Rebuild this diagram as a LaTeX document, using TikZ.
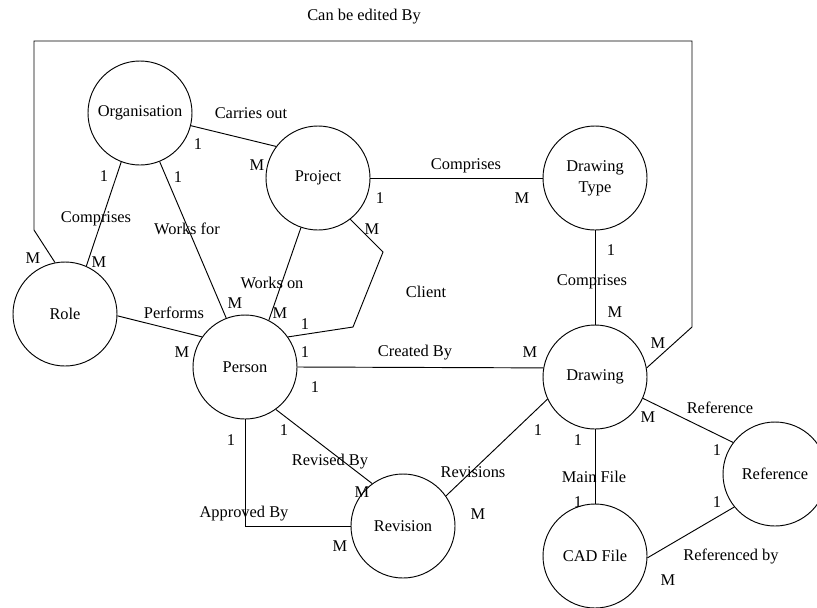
\documentclass[tikz,border=0pt]{standalone}
\usepackage{fontspec}
\setmainfont{Liberation Serif}

\begin{document}
\begin{tikzpicture}[
      x=0.03cm, y=-0.03cm,
      every node/.style={font=\fontsize{14}{18}\selectfont},
      entity/.style={draw,circle,minimum size=3.12cm,inner sep=0pt,align=center,line width=0.8pt},
      card/.style={inner sep=1pt},
      rel/.style={inner sep=1pt},
      link/.style={line width=0.8pt}
  ]
    \clip (0,0) rectangle (817,607);

    \node[entity] (org)       at (140,113) {Organisation};
    \node[entity] (proj)      at (318,178) {Project};
    \node[entity] (dtype)     at (595,178) {Drawing\\Type};
    \node[entity] (role)      at (65,314)  {Role};
    \node[entity] (person)    at (245,367) {Person};
    \node[entity] (drawing)   at (595,377) {Drawing};
    \node[entity] (revision)  at (403,526) {Revision};
    \node[entity] (reference) at (775,474) {Reference};
    \node[entity] (cad)       at (595,556) {CAD File};

    \draw[link] (org.-14) -- (proj.143);
    \draw[link] (org.249) -- (role.66);
    \draw[link] (org.-68) -- (person.111);
    \draw[link] (proj.251) -- (person.63);
    \draw[link] (proj.-52) -- (383,252) -- (353,327) -- (person.35);
    \draw[link] (proj.east) -- (dtype.west);
    \draw[link] (dtype.south) -- (drawing.north);
    \draw[link] (role.-2) -- (person.145);
    \draw[link] (person.east) -- (drawing.170);
    \draw[link] (person.-54) -- (revision.126);
    \draw[link] (person.south) |- (revision.west);
    \draw[link] (drawing.205) -- (revision.35);
    \draw[link] (drawing.south) -- (cad.north);
    \draw[link] (drawing.-24) -- (reference.143);
    \draw[link] (reference.219) -- (cad.-2);
    \draw[link] (role.101) -- (34,230) -- (34,41) -- (692,41) -- (692,327) -- (drawing.10);

    \node[rel] (lEdit)     at (364,17)  {Can be edited By};
    \node[card] (cEditR)   at (33,258)  {M};
    \node[card] (cEditD)   at (658,343) {M};

    \node[rel] (lCarries)  at (251,113) {Carries out};
    \node[card] (cCarrO)   at (198,144) {1};
    \node[card] (cCarrP)   at (257,165) {M};

    \node[rel] (lCompR)    at (96,219)  {Comprises};
    \node[card] (cCompRO)  at (104,176) {1};
    \node[card] (cCompRR)  at (99,262)  {M};

    \node[rel] (lWorksFor) at (187,229) {Works for};
    \node[card] (cWfO)     at (178,177) {1};
    \node[card] (cWfP)     at (235,303) {M};

    \node[rel] (lWorksOn)  at (272,283) {Works on};
    \node[card] (cWoP)     at (280,313) {M};

    \node[rel] (lClient)   at (426,292) {Client};
    \node[card] (cClPr)    at (372,229) {M};
    \node[card] (cClPe)    at (305,324) {1};

    \node[rel] (lCompDT)   at (466,166) {Comprises};
    \node[card] (cCompP)   at (380,198) {1};
    \node[card] (cCompT)   at (522,198) {M};

    \node[rel] (lCompD)    at (592,282) {Comprises};
    \node[card] (cCompDT)  at (611,250) {1};
    \node[card] (cCompDD)  at (615,312) {M};

    \node[rel] (lPerforms) at (174,313) {Performs};
    \node[card] (cPerfP)   at (182,352) {M};

    \node[rel] (lCreated)  at (415,353) {Created By};
    \node[card] (cCrPa)    at (305,352) {1};
    \node[card] (cCrPb)    at (315,387) {1};
    \node[card] (cCrD)     at (530,352) {M};

    \node[rel] (lRevised)  at (330,462) {Revised By};
    \node[card] (cRevP)    at (284,430) {1};
    \node[card] (cRevR)    at (362,492) {M};

    \node[rel] (lApproved) at (244,514) {Approved By};
    \node[card] (cAppP)    at (231,440) {1};
    \node[card] (cAppR)    at (340,546) {M};

    \node[rel] (lRevisions) at (473,472) {Revisions};
    \node[card] (cRvsD)    at (538,430) {1};
    \node[card] (cRvsR)    at (478,514) {M};

    \node[rel] (lMain)     at (594,477) {Main File};
    \node[card] (cMainD)   at (578,440) {1};
    \node[card] (cMainC)   at (578,502) {1};

    \node[rel] (lRef)      at (720,408) {Reference};
    \node[card] (cRefD)    at (648,417) {M};
    \node[card] (cRefR)    at (717,450) {1};

    \node[rel] (lRefBy)    at (731,556) {Referenced by};
    \node[card] (cRefByR)  at (717,502) {1};
    \node[card] (cRefByC)  at (668,580) {M};
  \end{tikzpicture}
\end{document}
